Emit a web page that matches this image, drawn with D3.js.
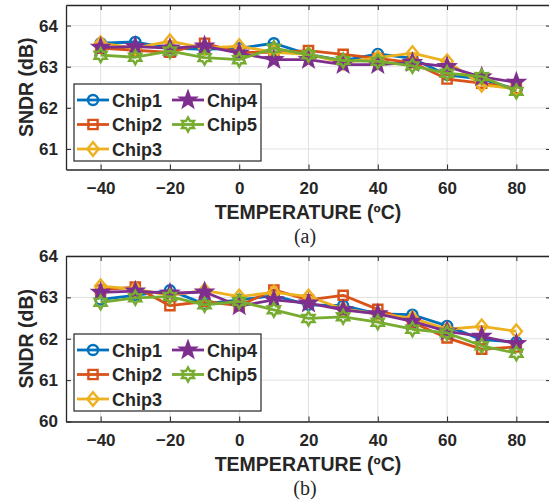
<!DOCTYPE html>
<html>
<head>
<meta charset="utf-8">
<script src="https://cdn.jsdelivr.net/npm/d3@7"></script>
<style>
  body { margin: 0; background: #fff; }
  svg { display: block; }
  text { font-family: "Liberation Sans", Arial, sans-serif; font-weight: bold; fill: #262626; }
</style>
</head>
<body>
<div id="chart"></div>
<script>
// temperatures (x axis)
var temps = [-40, -30, -20, -10, 0, 10, 20, 30, 40, 50, 60, 70, 80];

// panel (a) SNDR values, dB
var a_chip1 = [63.57, 63.60, 63.45, 63.42, 63.45, 63.57, 63.30, 63.15, 63.31, 63.20, 62.80, 62.70, 62.45];
var a_chip2 = [63.45, 63.40, 63.35, 63.57, 63.35, 63.35, 63.39, 63.30, 63.20, 63.10, 62.70, 62.60, 62.47];
var a_chip3 = [63.57, 63.45, 63.62, 63.45, 63.50, 63.35, 63.30, 63.10, 63.22, 63.33, 63.13, 62.56, 62.46];
var a_chip4 = [63.47, 63.49, 63.45, 63.50, 63.33, 63.17, 63.17, 63.05, 63.05, 63.10, 63.00, 62.75, 62.62];
var a_chip5 = [63.28, 63.23, 63.38, 63.22, 63.17, 63.45, 63.29, 63.15, 63.13, 63.02, 62.84, 62.76, 62.40];

// panel (b) SNDR values, dB
var b_chip1 = [62.95, 63.05, 63.17, 62.84, 62.94, 63.04, 62.82, 62.80, 62.60, 62.58, 62.31, 61.98, 61.92];
var b_chip2 = [63.18, 63.25, 62.80, 62.90, 62.80, 63.18, 62.94, 63.05, 62.71, 62.40, 62.02, 61.75, 61.80];
var b_chip3 = [63.27, 63.20, 63.05, 63.17, 63.02, 63.12, 63.02, 62.72, 62.60, 62.50, 62.23, 62.30, 62.18];
var b_chip4 = [63.12, 63.15, 63.10, 63.13, 62.79, 62.94, 62.86, 62.70, 62.60, 62.42, 62.18, 62.06, 61.88];
var b_chip5 = [62.88, 62.99, 63.02, 62.82, 62.90, 62.70, 62.49, 62.53, 62.40, 62.23, 62.14, 61.83, 61.65];

var chipNames = ["Chip1", "Chip2", "Chip3", "Chip4", "Chip5"];
var chipColors = ["#0072BD", "#D95319", "#EDB120", "#7E2F8E", "#77AC30"];
var chipMarkers = ["circle", "square", "diamond", "star", "hexagram"];

var xTicks = [-40, -20, 0, 20, 40, 60, 80];
var yTicksA = [61, 62, 63, 64];
var yTicksB = [60, 61, 62, 63, 64];

var W = 549, H = 503;
var svg = d3.select("#chart").append("svg")
  .attr("width", W)
  .attr("height", H);

var xScale = d3.scaleLinear().domain([-50, 90]).range([66, 551]);

// marker path centred on 0,0
function markerPath(kind) {
  var pts = [], i, a, r;
  if (kind === "circle") {
    return d3.symbol(d3.symbolCircle, 80)();
  } else if (kind === "square") {
    return "M-4.6,-4.6L4.6,-4.6L4.6,4.6L-4.6,4.6Z";
  } else if (kind === "diamond") {
    return "M0,-6.8L5.6,0L0,6.8L-5.6,0Z";
  } else if (kind === "star") {
    for (i = 0; i < 10; i++) {
      a = -Math.PI / 2 + i * Math.PI / 5;
      r = (i % 2 === 0) ? 8 : 3.3;
      pts.push([r * Math.cos(a), r * Math.sin(a)]);
    }
  } else {
    // hexagram
    for (i = 0; i < 12; i++) {
      a = -Math.PI / 2 + i * Math.PI / 6;
      r = (i % 2 === 0) ? 7 : 4;
      pts.push([r * Math.cos(a), r * Math.sin(a)]);
    }
  }
  return "M" + pts.map(p => p[0].toFixed(2) + "," + p[1].toFixed(2)).join("L") + "Z";
}

function drawMarker(g, kind, color, x, y) {
  g.append("path")
    .attr("d", markerPath(kind))
    .attr("transform", "translate(" + x + "," + y + ")")
    .attr("fill", kind === "star" ? color : "none")
    .attr("stroke", color)
    .attr("stroke-width", 2.4)
    .attr("stroke-linejoin", "miter");
}

/**
 * Draw one panel of the figure
 */
function drawPanel(opts) {
  var yScale = d3.scaleLinear().domain(opts.ydomain).range([opts.bottom, opts.top]);
  var g = svg.append("g");
  var left = xScale.range()[0], right = xScale.range()[1];

  // grid
  g.selectAll("line.gx").data(xTicks).enter().append("line")
    .attr("x1", d => xScale(d)).attr("x2", d => xScale(d))
    .attr("y1", opts.top).attr("y2", opts.bottom)
    .attr("stroke", "#e1e1e1").attr("stroke-width", 1);
  g.selectAll("line.gy").data(opts.yticks).enter().append("line")
    .attr("x1", left).attr("x2", right)
    .attr("y1", d => yScale(d)).attr("y2", d => yScale(d))
    .attr("stroke", "#e1e1e1").attr("stroke-width", 1);

  // axes, ticks pointing inward on all sides
  var ax = [
    g.append("g").attr("transform", "translate(0," + opts.bottom + ")")
      .call(d3.axisBottom(xScale).tickValues(xTicks).tickSize(-5).tickPadding(12.5).tickSizeOuter(0)),
    g.append("g").attr("transform", "translate(0," + opts.top + ")")
      .call(d3.axisTop(xScale).tickValues(xTicks).tickSize(-5).tickFormat("").tickSizeOuter(0)),
    g.append("g").attr("transform", "translate(" + left + ",0)")
      .call(d3.axisLeft(yScale).tickValues(opts.yticks).tickFormat(d3.format("d"))
        .tickSize(-5).tickPadding(8).tickSizeOuter(0)),
    g.append("g").attr("transform", "translate(" + right + ",0)")
      .call(d3.axisRight(yScale).tickValues(opts.yticks).tickSize(-5).tickFormat("").tickSizeOuter(0))
  ];
  ax.forEach(function(a) {
    a.selectAll("path.domain").attr("stroke", "#262626").attr("stroke-width", 1.3);
    a.selectAll(".tick line").attr("stroke", "#262626").attr("stroke-width", 1);
    a.selectAll(".tick text").style("font-size", "17px").attr("fill", "#262626")
      .style("font-family", '"Liberation Sans", Arial, sans-serif').style("font-weight", "bold");
  });

  // series
  var line = d3.line().x((d, i) => xScale(temps[i])).y(d => yScale(d));
  opts.series.forEach(function(vals, k) {
    g.append("path")
      .datum(vals)
      .attr("d", line)
      .attr("fill", "none")
      .attr("stroke", chipColors[k])
      .attr("stroke-width", 2.8)
      .attr("stroke-linejoin", "round");
    vals.forEach(function(v, i) {
      drawMarker(g, chipMarkers[k], chipColors[k], xScale(temps[i]), yScale(v));
    });
  });

  // labels
  g.append("text")
    .attr("transform", "translate(33," + ((opts.top + opts.bottom) / 2) + ") rotate(-90)")
    .attr("text-anchor", "middle")
    .style("font-size", "19.5px")
    .text("SNDR (dB)");
  g.append("text")
    .attr("x", 308).attr("y", opts.bottom + 49.5)
    .attr("text-anchor", "middle")
    .style("font-size", "19.5px")
    .text("TEMPERATURE (ºC)");
  g.append("text")
    .attr("x", 305).attr("y", opts.bottom + 73.5)
    .attr("text-anchor", "middle")
    .style("font-family", '"Liberation Serif", "Times New Roman", serif')
    .style("font-weight", "normal")
    .style("font-size", "20px")
    .attr("fill", "#000")
    .text(opts.caption);

  // legend, two columns
  var lg = g.append("g");
  lg.append("rect")
    .attr("x", 74).attr("y", opts.legTop)
    .attr("width", 187).attr("height", 77)
    .attr("fill", "#fff").attr("stroke", "#262626").attr("stroke-width", 1.2);
  var slots = [[0, 0], [0, 1], [0, 2], [1, 0], [1, 1]];
  var colX = [77, 172];
  chipNames.forEach(function(name, k) {
    var cx = colX[slots[k][0]], cy = opts.legTop + 16 + slots[k][1] * 24.5;
    lg.append("line")
      .attr("x1", cx).attr("x2", cx + 32)
      .attr("y1", cy).attr("y2", cy)
      .attr("stroke", chipColors[k]).attr("stroke-width", 2.8);
    drawMarker(lg, chipMarkers[k], chipColors[k], cx + 16, cy);
    lg.append("text")
      .attr("x", cx + 35).attr("y", cy + 6.5)
      .style("font-size", "18px")
      .text(name);
  });
}

drawPanel({
  top: 5, bottom: 169.5, ydomain: [60.5, 64.5], yticks: yTicksA,
  series: [a_chip1, a_chip2, a_chip3, a_chip4, a_chip5],
  legTop: 84, caption: "(a)"
});

drawPanel({
  top: 256, bottom: 421.5, ydomain: [60, 64], yticks: yTicksB,
  series: [b_chip1, b_chip2, b_chip3, b_chip4, b_chip5],
  legTop: 334, caption: "(b)"
});
</script>
</body>
</html>
